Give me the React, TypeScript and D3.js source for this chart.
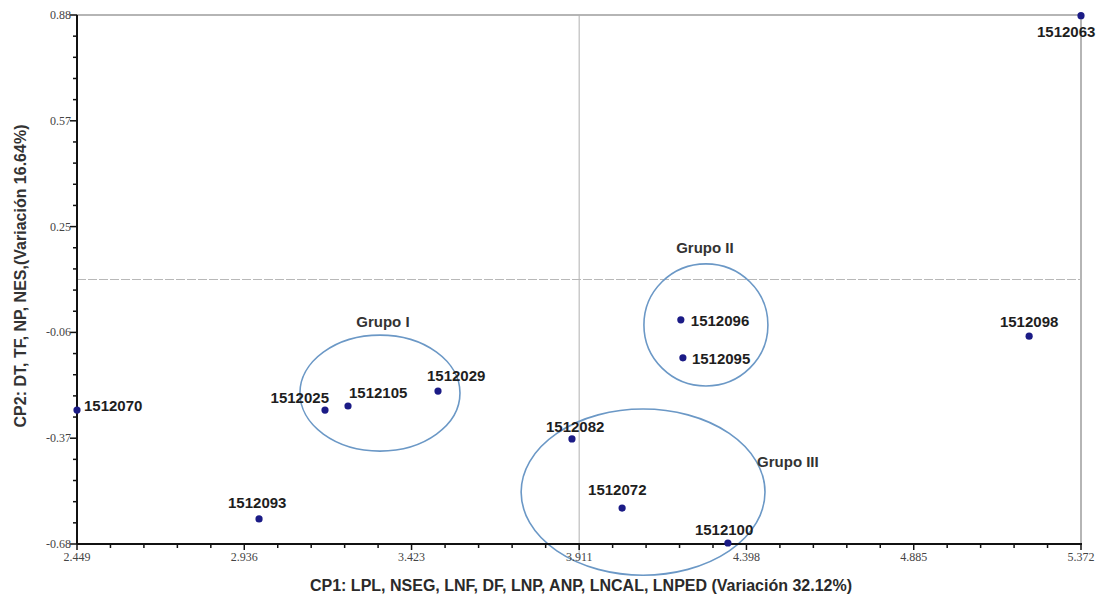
import React from 'react';
import * as d3 from 'd3';

// Individuals on the first two principal components
const names = ['1512063', '1512098', '1512096', '1512095', '1512070', '1512025', '1512105', '1512029', '1512082', '1512072', '1512093', '1512100'];
const cp1 = [5.372, 5.221, 4.207, 4.213, 2.449, 3.171, 3.238, 3.500, 3.890, 4.036, 2.979, 4.344];
const cp2 = [0.878, -0.067, -0.019, -0.131, -0.285, -0.285, -0.273, -0.229, -0.370, -0.574, -0.606, -0.677];

// Axis ticks
const xTickValues = [2.449, 2.936, 3.423, 3.911, 4.398, 4.885, 5.372];
const xTickLabels = ['2.449', '2.936', '3.423', '3.911', '4.398', '4.885', '5.372'];
const yTickValues = [0.88, 0.568, 0.256, -0.056, -0.368, -0.68];
const yTickLabels = ['0.88', '0.57', '0.25', '-0.06', '-0.37', '-0.68'];

// Reference lines
const xCross = 3.911;
const yCross = 0.1;

// Groups (ellipses in data units)
const groupNames = ['Grupo I', 'Grupo II', 'Grupo III'];
const groupCx = [3.331, 4.280, 4.097];
const groupCy = [-0.235, -0.034, -0.527];
const groupRx = [0.233, 0.1805, 0.355];
const groupRy = [0.171, 0.180, 0.245];

// label placement (pixels, relative to point)
const labelPos: Record<string, [number, number, string]> = {
  '1512063': [-44, 21, 'start'],
  '1512098': [0, -9, 'middle'],
  '1512096': [10, 6, 'start'],
  '1512095': [9, 6, 'start'],
  '1512070': [7, 1, 'start'],
  '1512025': [4, -7, 'end'],
  '1512105': [1, -8, 'start'],
  '1512029': [-11, -10, 'start'],
  '1512082': [-26, -7, 'start'],
  '1512072': [-34, -13, 'start'],
  '1512093': [-31, -11, 'start'],
  '1512100': [-33, -8, 'start'],
};
const groupLabelPos: [number, number, string][] = [
  [3, -66, 'middle'],
  [-1, -72, 'middle'],
  [114, -25, 'start'],
];

const W = 1107;
const H = 597;
const margin = { top: 15, right: 26, bottom: 53, left: 77 };

export default function App() {
  const x = d3.scaleLinear().domain([2.449, 5.372]).range([margin.left, W - margin.right]);
  const y = d3.scaleLinear().domain([-0.68, 0.88]).range([H - margin.bottom, margin.top]);
  const [x0, x1] = x.range();
  const [y0, y1] = [y(0.88), y(-0.68)];

  const minor = (vals: number[]) => {
    const out: number[] = [];
    for (let i = 0; i < vals.length - 1; i++) {
      for (let k = 1; k < 5; k++) out.push(vals[i] + ((vals[i + 1] - vals[i]) * k) / 5);
    }
    return out;
  };

  const labelFont = { fontFamily: 'Liberation Sans, Arial, sans-serif', fontWeight: 700, fontSize: 15, fill: '#1e1e1e' } as const;
  const tickFont = { fontFamily: 'Liberation Serif, Times New Roman, serif', fontSize: 12, fill: '#444' } as const;

  return (
    <svg width={W} height={H} style={{ position: 'absolute', left: 0, top: 0, background: '#fff' }}>
      {/* frame */}
      <line x1={x0} x2={x1} y1={y0} y2={y0} stroke="#9c9c9c" strokeWidth={1.5} />
      <line x1={x1} x2={x1} y1={y0} y2={y1} stroke="#9c9c9c" strokeWidth={1.5} />

      {/* reference lines */}
      <line x1={x(xCross)} x2={x(xCross)} y1={y0} y2={y1 + 16} stroke="#b0b0b0" strokeWidth={1} />
      <line x1={x0} x2={x1} y1={y(yCross)} y2={y(yCross)} stroke="#b8b8b8" strokeWidth={1.2} strokeDasharray="9 2" />

      {/* ellipses */}
      {groupNames.map((g, i) => (
        <ellipse key={g} cx={x(groupCx[i])} cy={y(groupCy[i])}
          rx={x(groupCx[i] + groupRx[i]) - x(groupCx[i])}
          ry={y(groupCy[i]) - y(groupCy[i] + groupRy[i])}
          fill="none" stroke="#6b98c6" strokeWidth={1.6} />
      ))}
      {groupNames.map((g, i) => (
        <text key={g} x={x(groupCx[i]) + groupLabelPos[i][0]} y={y(groupCy[i]) + groupLabelPos[i][1]}
          textAnchor={groupLabelPos[i][2] as any} style={{ ...labelFont, fontSize: 15, fill: '#333' }}>{g}</text>
      ))}

      {/* axes */}
      <line x1={x0} x2={x0} y1={y0} y2={y1} stroke="#111" strokeWidth={2} />
      <line x1={x0} x2={x1 + 1} y1={y1} y2={y1} stroke="#111" strokeWidth={2} />
      {yTickValues.map((v, i) => (
        <g key={'yt' + i}>
          <line x1={x0 - 7} x2={x0} y1={y(v)} y2={y(v)} stroke="#111" strokeWidth={1.5} />
          <text x={x0 - 6} y={y(v) + 4} textAnchor="end" style={tickFont}>{yTickLabels[i]}</text>
        </g>
      ))}
      {minor(yTickValues).map((v, i) => (
        <line key={'ym' + i} x1={x0 - 4} x2={x0} y1={y(v)} y2={y(v)} stroke="#111" strokeWidth={1.5} />
      ))}
      {xTickValues.map((v, i) => (
        <g key={'xt' + i}>
          <line x1={x(v)} x2={x(v)} y1={y1} y2={y1 + 6} stroke="#111" strokeWidth={1.5} />
          <text x={x(v)} y={y1 + 17} textAnchor="middle" style={tickFont}>{xTickLabels[i]}</text>
        </g>
      ))}
      {minor(xTickValues).map((v, i) => (
        <line key={'xm' + i} x1={x(v)} x2={x(v)} y1={y1} y2={y1 + 4} stroke="#111" strokeWidth={1.5} />
      ))}

      {/* points */}
      {names.map((n, i) => (
        <g key={n}>
          <circle cx={x(cp1[i])} cy={y(cp2[i])} r={3.6} fill="#1b1b86" />
          <text x={x(cp1[i]) + labelPos[n][0]} y={y(cp2[i]) + labelPos[n][1]}
            textAnchor={labelPos[n][2] as any} style={labelFont}>{n}</text>
        </g>
      ))}

      {/* axis titles */}
      <text x={581} y={591} textAnchor="middle" style={{ ...labelFont, fontSize: 16, fill: '#2a2a2a' }}>
        CP1: LPL, NSEG, LNF, DF, LNP, ANP, LNCAL, LNPED (Variación 32.12%)
      </text>
      <text transform="translate(26,276) rotate(-90)" textAnchor="middle" style={{ ...labelFont, fontSize: 16, fill: '#333' }}>
        CP2: DT, TF, NP, NES,(Variación 16.64%)
      </text>
    </svg>
  );
}
